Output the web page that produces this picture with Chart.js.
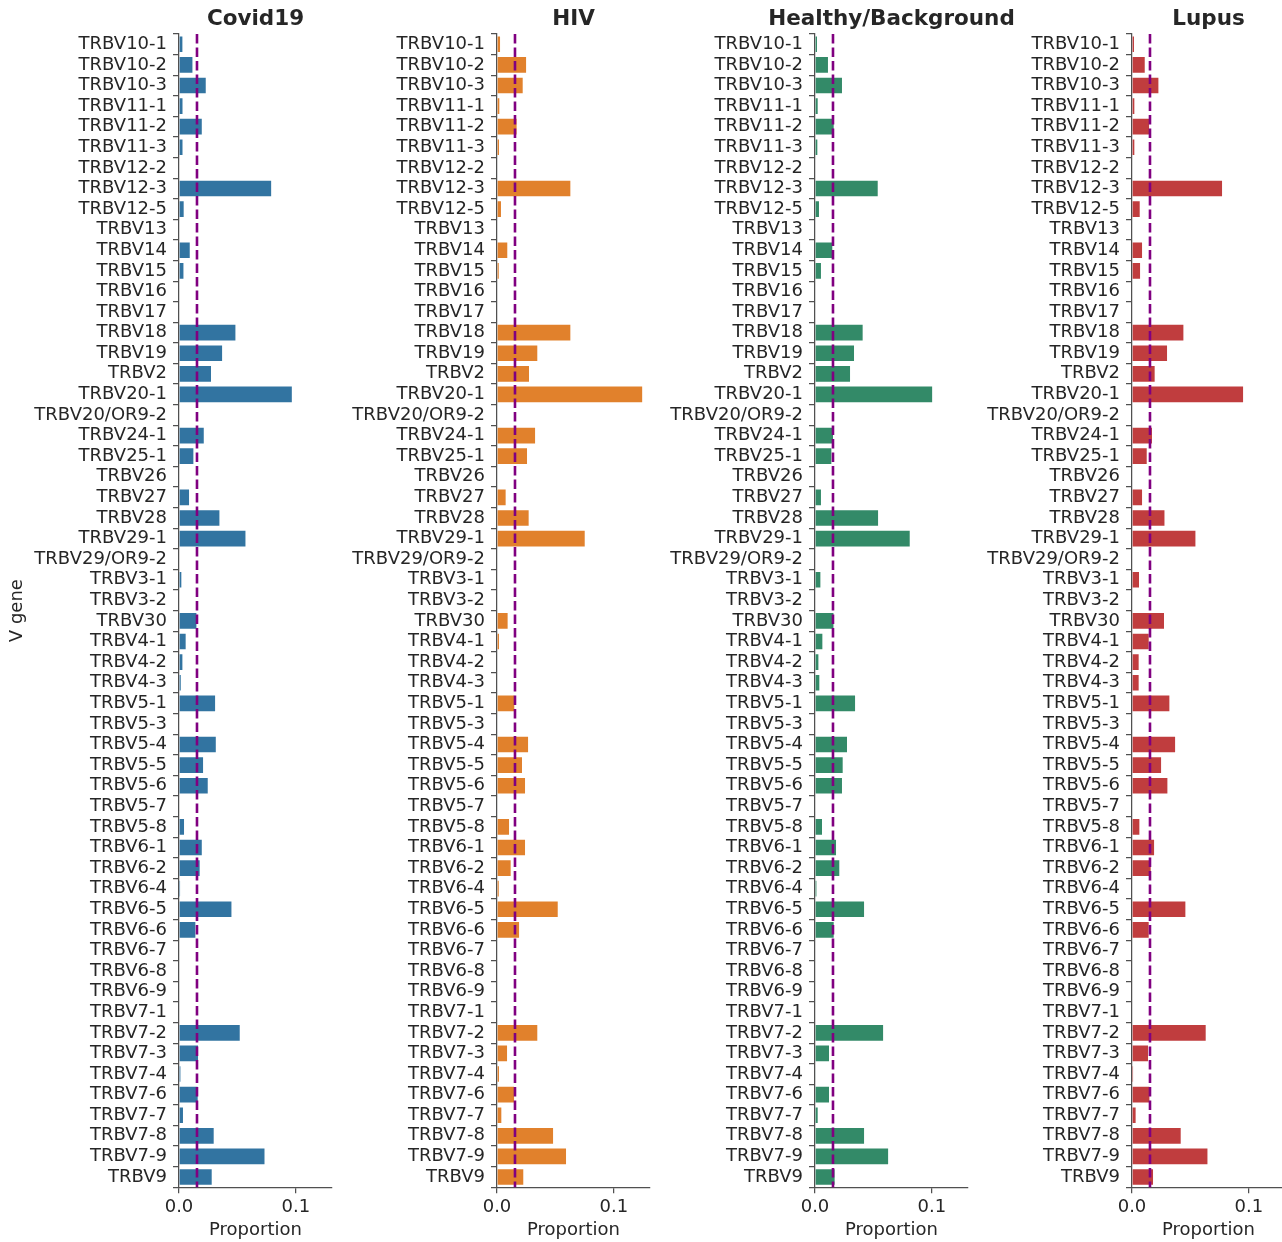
<!DOCTYPE html>
<html>
<head>
<meta charset="utf-8">
<script src="https://cdn.jsdelivr.net/npm/chart.js@4.4.1/dist/chart.umd.min.js"></script>
<style>
  html, body { margin: 0; padding: 0; background: #ffffff; }
  body { width: 1282px; height: 1242px; overflow: hidden; position: relative; }
  .panel { position: absolute; top: 0; height: 1242px; }
</style>
</head>
<body>
<div class="panel" id="p0"><canvas id="c0"></canvas></div>
<div class="panel" id="p1"><canvas id="c1"></canvas></div>
<div class="panel" id="p2"><canvas id="c2"></canvas></div>
<div class="panel" id="p3"><canvas id="c3"></canvas></div>
<script>
// ---------------- data ----------------
const vGenes = [
  'TRBV10-1','TRBV10-2','TRBV10-3','TRBV11-1','TRBV11-2','TRBV11-3','TRBV12-2','TRBV12-3','TRBV12-5',
  'TRBV13','TRBV14','TRBV15','TRBV16','TRBV17','TRBV18','TRBV19','TRBV2','TRBV20-1','TRBV20/OR9-2',
  'TRBV24-1','TRBV25-1','TRBV26','TRBV27','TRBV28','TRBV29-1','TRBV29/OR9-2','TRBV3-1','TRBV3-2',
  'TRBV30','TRBV4-1','TRBV4-2','TRBV4-3','TRBV5-1','TRBV5-3','TRBV5-4','TRBV5-5','TRBV5-6','TRBV5-7',
  'TRBV5-8','TRBV6-1','TRBV6-2','TRBV6-4','TRBV6-5','TRBV6-6','TRBV6-7','TRBV6-8','TRBV6-9','TRBV7-1',
  'TRBV7-2','TRBV7-3','TRBV7-4','TRBV7-6','TRBV7-7','TRBV7-8','TRBV7-9','TRBV9'
];

const covid19 = [
  0.0029, 0.0115, 0.0229, 0.0030, 0.0195, 0.0030, 0, 0.0789, 0.0040,
  0, 0.0092, 0.0038, 0, 0, 0.0483, 0.0369, 0.0274, 0.0966, 0,
  0.0212, 0.0123, 0, 0.0086, 0.0346, 0.0569, 0, 0.0020, 0,
  0.0149, 0.0057, 0.0029, 0.0015, 0.0309, 0, 0.0315, 0.0206, 0.0246, 0,
  0.0043, 0.0195, 0.0177, 0.0009, 0.0449, 0.0140, 0, 0, 0, 0,
  0.0520, 0.0163, 0.0012, 0.0160, 0.0034, 0.0297, 0.0732, 0.0280
];

const hiv = [
  0.0026, 0.0249, 0.0220, 0.0020, 0.0168, 0.0017, 0, 0.0628, 0.0034,
  0, 0.0088, 0.0015, 0, 0, 0.0628, 0.0345, 0.0274, 0.1243, 0,
  0.0326, 0.0257, 0, 0.0074, 0.0271, 0.0751, 0, 0, 0,
  0.0091, 0.0017, 0, 0, 0.0148, 0, 0.0266, 0.0214, 0.0240, 0,
  0.0103, 0.0240, 0.0117, 0.0015, 0.0520, 0.0189, 0, 0, 0, 0,
  0.0345, 0.0086, 0.0017, 0.0146, 0.0037, 0.0480, 0.0591, 0.0225
];

const healthy = [
  0.0017, 0.0111, 0.0231, 0.0023, 0.0160, 0.0020, 0, 0.0537, 0.0034,
  0, 0.0148, 0.0051, 0, 0, 0.0408, 0.0334, 0.0300, 0.1003, 0,
  0.0154, 0.0140, 0, 0.0051, 0.0540, 0.0811, 0, 0.0046, 0,
  0.0158, 0.0063, 0.0029, 0.0037, 0.0343, 0, 0.0274, 0.0237, 0.0231, 0,
  0.0060, 0.0180, 0.0208, 0.0012, 0.0420, 0.0160, 0, 0, 0, 0,
  0.0583, 0.0120, 0.0005, 0.0120, 0.0023, 0.0420, 0.0626, 0.0168
];

const lupus = [
  0.0017, 0.0109, 0.0226, 0.0020, 0.0146, 0.0020, 0, 0.0771, 0.0066,
  0, 0.0086, 0.0069, 0, 0, 0.0440, 0.0300, 0.0194, 0.0951, 0,
  0.0171, 0.0126, 0, 0.0086, 0.0278, 0.0543, 0, 0.0060, 0,
  0.0274, 0.0143, 0.0057, 0.0057, 0.0320, 0, 0.0369, 0.0249, 0.0303, 0,
  0.0063, 0.0189, 0.0160, 0, 0.0457, 0.0143, 0, 0, 0, 0,
  0.0631, 0.0137, 0.0009, 0.0149, 0.0031, 0.0417, 0.0646, 0.0180
];

const panelTitles = ['Covid19', 'HIV', 'Healthy/Background', 'Lupus'];
const panelSeries = [covid19, hiv, healthy, lupus];
const panelColors = ['#3274a1', '#e1812c', '#338a68', '#c03d3e'];
const referenceLine = 0.0154;
const xTickValues = [0, 0.1];
const xMin = 0;
const xMax = 0.131;
const yAxisTitle = 'V gene';
const xAxisTitle = 'Proportion';

// ---------------- layout ----------------
const FONT = '"DejaVu Sans", "Liberation Sans", sans-serif';
const TEXT = '#262626';
const AXIS = '#505050';
const YAXIS_W = 179;
const PLOT_W = 153;
const RIGHT_PAD = 80;
const PLOT_TOP = 34;
const XAXIS_H = 54.7;
const panelZero = [179, 497, 815, 1132];

const overlayPlugin = {
  id: 'overlay',
  afterDatasetsDraw(chart, args, opts) {
    const { ctx, chartArea: a, scales: { x } } = chart;
    const px = x.getPixelForValue(opts.ref);
    ctx.save();
    ctx.strokeStyle = '#800080';
    ctx.lineWidth = 2.6;
    ctx.setLineDash([9.5, 4]);
    ctx.beginPath();
    ctx.moveTo(px, a.top);
    ctx.lineTo(px, a.bottom);
    ctx.stroke();
    ctx.restore();
  },
  afterDraw(chart, args, opts) {
    const { ctx, chartArea: a } = chart;
    ctx.save();
    ctx.fillStyle = TEXT;
    ctx.font = 'bold 21.5px ' + FONT;
    ctx.textAlign = 'center';
    ctx.textBaseline = 'alphabetic';
    ctx.fillText(opts.title, (a.left + a.right) / 2, 24.5);
    ctx.restore();
  }
};

panelTitles.forEach((title, i) => {
  const div = document.getElementById('p' + i);
  const left = panelZero[i] - YAXIS_W;
  const width = YAXIS_W + PLOT_W + RIGHT_PAD;
  div.style.left = left + 'px';
  div.style.width = width + 'px';

  new Chart(document.getElementById('c' + i), {
    type: 'bar',
    data: {
      labels: vGenes,
      datasets: [{
        data: panelSeries[i],
        backgroundColor: panelColors[i],
        borderWidth: 0,
        barPercentage: 0.76,
        categoryPercentage: 1.0
      }]
    },
    options: {
      indexAxis: 'y',
      responsive: true,
      maintainAspectRatio: false,
      animation: false,
      devicePixelRatio: 1,
      layout: { padding: { top: PLOT_TOP, right: RIGHT_PAD, left: 0, bottom: 0 } },
      plugins: {
        legend: { display: false },
        tooltip: { enabled: false },
        title: { display: false },
        overlay: { ref: referenceLine, title: title }
      },
      scales: {
        y: {
          type: 'category',
          offset: true,
          afterFit: (s) => { s.width = YAXIS_W; },
          grid: { drawOnChartArea: false, drawTicks: true, tickLength: 6, color: AXIS, lineWidth: 1.25 },
          border: { display: true, color: AXIS, width: 1.25 },
          ticks: {
            autoSkip: false,
            padding: 6,
            color: TEXT,
            font: { family: FONT, size: 18, lineHeight: 1.0 }
          },
          title: {
            display: i === 0,
            text: yAxisTitle,
            color: TEXT,
            font: { family: FONT, size: 18 },
            padding: { top: 7, bottom: 0 }
          }
        },
        x: {
          type: 'linear',
          position: 'bottom',
          min: xMin,
          max: xMax,
          afterFit: (s) => { s.height = XAXIS_H; },
          afterBuildTicks: (s) => { s.ticks = xTickValues.map(v => ({ value: v })); },
          grid: { drawOnChartArea: false, drawTicks: true, tickLength: 6, color: AXIS, lineWidth: 1.25 },
          border: { display: true, color: AXIS, width: 1.25 },
          ticks: {
            padding: 3,
            color: TEXT,
            maxRotation: 0,
            font: { family: FONT, size: 18 },
            callback: (v) => Number(v).toFixed(1)
          },
          title: {
            display: true,
            text: xAxisTitle,
            color: TEXT,
            font: { family: FONT, size: 18 },
            padding: { top: 0, bottom: 1 }
          }
        }
      }
    },
    plugins: [overlayPlugin]
  });
});
</script>
</body>
</html>
